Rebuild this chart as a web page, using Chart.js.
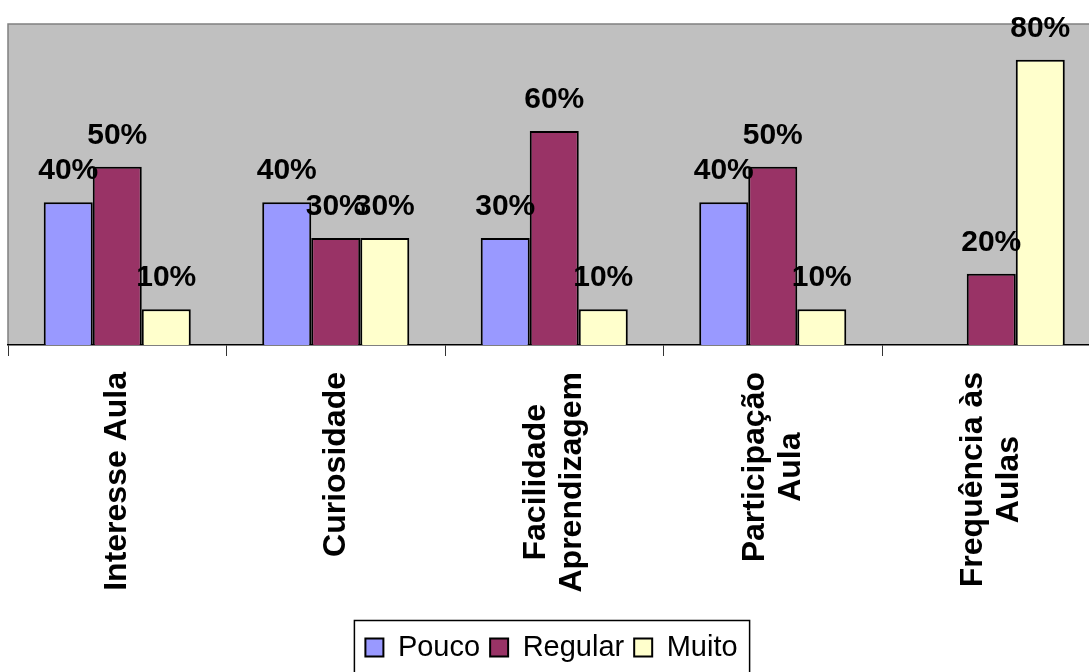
<!DOCTYPE html>
<html>
<head>
<meta charset="utf-8">
<title>Avaliação</title>
<script src="https://cdn.jsdelivr.net/npm/chart.js@4/dist/chart.umd.min.js"></script>
<style>
  html, body { margin: 0; padding: 0; background: #fff; }
  canvas { display: block; }
</style>
</head>
<body>
<canvas id="chart" width="1089" height="672"></canvas>
<script>
// categories (multi-line labels as arrays)
const categories = [
    ['Interesse Aula'],
    ['Curiosidade'],
    ['Facilidade', 'Aprendizagem'],
    ['Participação', 'Aula'],
    ['Frequência às', 'Aulas']
];

// percentages per answer
const pouco = [40, 40, 30, 40, null];
const regular = [50, 30, 60, 50, 20];
const muito = [10, 30, 10, 10, 80];

const FONT = 'Arial, "Liberation Sans", sans-serif';
Chart.defaults.font.family = FONT;

// plot area runs a little past the right edge of the canvas,
// legend sits a few px right of centre
const widenPlot = {
    id: 'widenPlot',
    afterLayout(chart) {
        const x = chart.scales.x;
        x.right = x.left + 1092.5;
        x.width = x.right - x.left;
        x.configure();
        chart.chartArea.right = x.right;
        chart.chartArea.width = x.width;

        chart.legend.left += 3;
        chart.legend.right += 3;
    }
};

// grey plot background with a thin border on top/left
const plotBackground = {
    id: 'plotBackground',
    beforeDraw(chart) {
        const { ctx, chartArea: a } = chart;
        ctx.save();
        ctx.fillStyle = '#C0C0C0';
        ctx.fillRect(a.left, a.top, a.right - a.left, a.bottom - a.top);
        ctx.strokeStyle = '#808080';
        ctx.lineWidth = 1.5;
        ctx.beginPath();
        ctx.moveTo(a.left, a.bottom);
        ctx.lineTo(a.left, a.top);
        ctx.lineTo(a.right, a.top);
        ctx.stroke();
        ctx.restore();
    }
};

// value labels above each bar
const valueLabels = {
    id: 'valueLabels',
    afterDatasetsDraw(chart) {
        const ctx = chart.ctx;
        ctx.save();
        ctx.font = 'bold 30px ' + FONT;
        ctx.fillStyle = '#000';
        ctx.textAlign = 'center';
        ctx.textBaseline = 'alphabetic';
        chart.data.datasets.forEach((ds, i) => {
            chart.getDatasetMeta(i).data.forEach((bar, j) => {
                const v = ds.data[j];
                if (v === null || v === undefined) return;
                ctx.fillText(v + '%', bar.x, bar.y - 23);
            });
        });
        ctx.restore();
    }
};

// rotated category labels, lines centred on each other
const categoryLabels = {
    id: 'categoryLabels',
    afterDraw(chart) {
        const ctx = chart.ctx;
        const xs = chart.scales.x;
        const top = xs.top + 27;
        ctx.save();
        ctx.font = 'bold 32px ' + FONT;
        ctx.fillStyle = '#000';
        ctx.textAlign = 'center';
        ctx.textBaseline = 'middle';
        chart.data.labels.forEach((lab, i) => {
            const lines = Array.isArray(lab) ? lab : [lab];
            const w = Math.max(...lines.map(l => ctx.measureText(l).width));
            ctx.save();
            ctx.translate(xs.getPixelForValue(i), top + w / 2);
            ctx.rotate(-Math.PI / 2);
            lines.forEach((l, k) => ctx.fillText(l, 0, (k - (lines.length - 1) / 2) * 36));
            ctx.restore();
        });
        ctx.restore();
    }
};

// black frame round the legend (hit boxes follow the drawn items)
const legendFrame = {
    id: 'legendFrame',
    afterDraw(chart) {
        const boxes = chart.legend.legendHitBoxes;
        if (!boxes || !boxes.length) return;
        const first = boxes[0], last = boxes[boxes.length - 1];
        const cy = first.top + first.height / 2;
        const ctx = chart.ctx;
        ctx.save();
        ctx.strokeStyle = '#000';
        ctx.lineWidth = 1.5;
        ctx.strokeRect(first.left - 11, cy - 27, last.left + last.width - first.left + 23, 60);
        ctx.restore();
    }
};

const ctx = document.getElementById('chart').getContext('2d');
new Chart(ctx, {
    type: 'bar',
    data: {
        labels: categories,
        datasets: [
            { label: 'Pouco', data: pouco, backgroundColor: '#9999FF' },
            { label: 'Regular', data: regular, backgroundColor: '#993366' },
            { label: 'Muito', data: muito, backgroundColor: '#FFFFCC' }
        ].map(d => Object.assign(d, { borderColor: '#000', borderWidth: 2 }))
    },
    options: {
        responsive: false,
        animation: false,
        events: [],
        layout: { padding: { top: 24, left: 8, right: 0, bottom: 0 } },
        datasets: {
            bar: { categoryPercentage: 0.673, barPercentage: 1 }
        },
        scales: {
            x: {
                grid: {
                    offset: true,
                    drawOnChartArea: false,
                    drawTicks: true,
                    tickLength: 11,
                    color: '#333'
                },
                border: { color: '#000', width: 1.5 },
                ticks: { display: false },
                afterFit(scale) {
                    scale.height = scale.chart.height - 345 - scale.chart.legend.height;
                }
            },
            y: {
                display: false,
                min: 0,
                max: 90
            }
        },
        plugins: {
            legend: {
                position: 'bottom',
                labels: {
                    boxWidth: 18,
                    boxHeight: 18,
                    padding: 10,
                    color: '#000',
                    font: { size: 29 }
                }
            },
            tooltip: { enabled: false }
        }
    },
    plugins: [widenPlot, plotBackground, valueLabels, categoryLabels, legendFrame]
});
</script>
</body>
</html>
